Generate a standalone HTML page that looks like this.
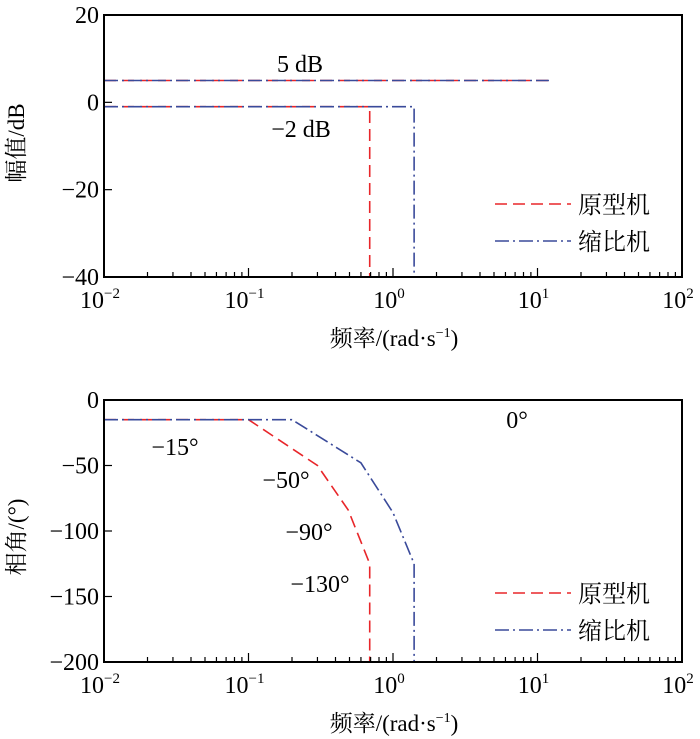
<!DOCTYPE html>
<html><head><meta charset="utf-8"><style>
html,body{margin:0;padding:0;background:#fff;}
svg{display:block;font-family:"Liberation Serif","Noto Serif CJK SC","Noto Sans CJK SC",serif;}
</style></head><body>
<svg id="c" width="700" height="739" viewBox="0 0 700 739" xmlns="http://www.w3.org/2000/svg"></svg>
<script>
const xTicks = [-2, -1, 0, 1, 2];
const magTicks = [20, 0, -20, -40];
const phaseTicks = [0, -50, -100, -150, -200];
// magnitude series: [freq, dB]
const magProtoHigh = [[0.01, 5], [12, 5]];
const magProtoLow = [[0.01, -1], [0.69, -1], [0.69, -40]];
const magScaledHigh = [[0.01, 5], [12, 5]];
const magScaledLow = [[0.01, -1], [1.4, -1], [1.4, -40]];
// phase series: [freq, deg]
const phaseZero = [[0.01, 0], [20, 0]];
const phaseProto = [[0.01, -15], [0.1, -15], [0.3, -50], [0.49, -84], [0.69, -125], [0.69, -200]];
const phaseScaled = [[0.01, -15], [0.2, -15], [0.6, -48], [1.0, -86], [1.4, -125], [1.4, -200]];
const magLabels = [["5 dB", 300, 72], ["\u22122 dB", 301, 137]];
const phaseLabels = [["0\u00b0", 517, 428], ["\u221215\u00b0", 175, 455], ["\u221250\u00b0", 286, 488], ["\u221290\u00b0", 309, 540], ["\u2212130\u00b0", 320, 592]];

const NS = "http://www.w3.org/2000/svg";
const svg = document.getElementById("c");
const L = 104, R = 682;
const RED = "#e8262a", BLUE = "#3a4a9a";
function mk(tag, attrs, parent) {
  const e = document.createElementNS(NS, tag);
  for (const k in attrs) e.setAttribute(k, attrs[k]);
  (parent || svg).appendChild(e);
  return e;
}
function xs(f) { return L + (Math.log10(f) + 2) / 4 * (R - L); }
function fmt(v) { return v < 0 ? "\u2212" + (-v) : "" + v; }

function panel(name, T, B, yMax, yMin, yTicks, series, labels, legY, yTitle, yTitleY) {
  const g = mk("g", {});
  
  
  const ys = v => T + (yMax - v) / (yMax - yMin) * (B - T);
  for (const s of series) {
    const p = mk("polyline", {points: s.d.map(q => xs(q[0]) + "," + ys(q[1])).join(" "), fill: "none", stroke: s.c, "stroke-width": 1.6, "stroke-dasharray": s.dash}, g);
    
    
  }
  const fr = mk("rect", {x: L, y: T, width: R - L, height: B - T, fill: "none", stroke: "#000", "stroke-width": 2}, g);
  
  
  for (let d = -2; d < 2; d++) {
    for (let m = 1; m < 10; m++) {
      const x = xs(m * Math.pow(10, d));
      mk("line", {x1: x, x2: x, y1: B, y2: B - (m === 1 ? 9 : 5), stroke: "#000", "stroke-width": 1.2}, g);
    }
  }
  for (const t of xTicks) {
    const x = xs(Math.pow(10, t));
    const tx = mk("text", {x: x - 4, y: B + 31, "font-size": 24, "text-anchor": "middle"}, g);
    
    
    tx.textContent = "10";
    const sp = mk("tspan", {dy: -10, "font-size": 15}, tx);
    sp.textContent = t < 0 ? "\u2212" + (-t) : "" + t;
  }
  for (const v of yTicks) {
    const y = ys(v);
    mk("line", {x1: L, x2: L + 8, y1: y, y2: y, stroke: "#000", "stroke-width": 1.2}, g);
    const tx = mk("text", {x: L - 5, y: y + 8, "font-size": 24, "text-anchor": "end"}, g);
    
    
    tx.textContent = fmt(v);
  }
  const xt = mk("text", {x: 394, y: B + 69, "font-size": 23, "text-anchor": "middle"}, g);
  
  
  xt.textContent = "频率/(rad·s";
  const sup = mk("tspan", {dy: -9, "font-size": 14}, xt); sup.textContent = "\u22121";
  const cl = mk("tspan", {dy: 9}, xt); cl.textContent = ")";
  const yt = mk("text", {x: 0, y: 0, "font-size": 23, "text-anchor": "middle", transform: "translate(24," + yTitleY + ") rotate(-90)"}, g);
  
  
  yt.textContent = yTitle;
  for (const a of labels) {
    const t = mk("text", {x: a[1], y: a[2], "font-size": 24, "text-anchor": "middle"}, g);
    
    
    t.textContent = a[0];
  }
  const lg = mk("g", {}, g);
  
  
  const ents = [["原型机", RED, "12 6"], ["缩比机", BLUE, "14 4 2 4"]];
  ents.forEach((e, i) => {
    const y = legY + i * 37;
    const ln = mk("line", {x1: 495, x2: 571, y1: y, y2: y, stroke: e[1], "stroke-width": 1.6, "stroke-dasharray": e[2]}, lg);
    
    
    const t = mk("text", {x: 578, y: y + 9, "font-size": 24}, lg);
    
    
    t.textContent = e[0];
  });
}

panel("magnitude-plot", 15, 277, 20, -40, magTicks, [
  {n: "proto-high", d: magProtoHigh, c: RED, dash: "12 6"},
  {n: "proto-low", d: magProtoLow, c: RED, dash: "12 6"},
  {n: "scaled-high", d: magScaledHigh, c: BLUE, dash: "14 4 2 4"},
  {n: "scaled-low", d: magScaledLow, c: BLUE, dash: "14 4 2 4"}
], magLabels, 204, "幅值/dB", 143);

panel("phase-plot", 400, 662, 0, -200, phaseTicks, [
  {n: "proto-zero", d: phaseZero, c: RED, dash: "12 6"},
  {n: "scaled-zero", d: phaseZero, c: BLUE, dash: "14 4 2 4"},
  {n: "proto-phase", d: phaseProto, c: RED, dash: "12 6"},
  {n: "scaled-phase", d: phaseScaled, c: BLUE, dash: "14 4 2 4"}
], phaseLabels, 593, "相角/(°)", 537);
</script>
</body></html>
